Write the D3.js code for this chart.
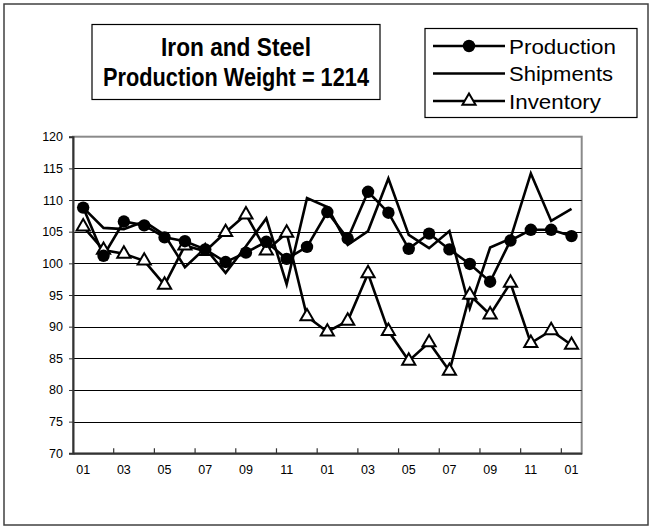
<!DOCTYPE html>
<html>
<head>
<meta charset="utf-8">
<script src="https://cdn.jsdelivr.net/npm/d3@7"></script>
<style>
  html, body { margin: 0; padding: 0; background: #fff; }
  svg { display: block; }
  text { font-family: "Liberation Sans", Arial, sans-serif; fill: #000; }
</style>
</head>
<body>
<script>
// ---- data ----
const months = ["01","02","03","04","05","06","07","08","09","10","11","12",
                "01","02","03","04","05","06","07","08","09","10","11","12","01"];
const production = [108.8,101.2,106.6,106.0,104.1,103.5,102.2,100.2,101.7,103.4,100.7,102.6,
                    108.1,103.9,111.3,108.0,102.3,104.7,102.2,99.9,97.1,103.6,105.3,105.3,104.3];
const shipments  = [108.8,105.6,105.4,106.6,104.5,99.4,102.4,98.5,102.7,107.1,96.7,110.3,
                    108.9,102.9,105.1,113.4,104.5,102.4,105.1,92.9,102.5,103.9,114.2,106.7,108.6];
const inventory  = [105.8,102.1,101.5,100.4,96.6,102.8,101.9,104.9,107.7,102.0,104.8,91.6,
                    89.2,90.9,98.4,89.3,84.6,87.5,83.0,95.0,91.9,96.9,87.4,89.4,87.1];
const yTicks = [70,75,80,85,90,95,100,105,110,115,120];
const titleLines = ["Iron and Steel", "Production Weight = 1214"];
const seriesNames = ["Production", "Shipments", "Inventory"];

// ---- layout ----
const W = 649, H = 527;
const plot = { left: 73, right: 581.7, top: 136.7, bottom: 453.3 };

const svg = d3.select("body").append("svg").attr("width", W).attr("height", H);

// outer frame
svg.append("rect").attr("x", 4).attr("y", 4).attr("width", 644).attr("height", 521)
  .attr("fill", "#fff").attr("stroke", "#404040").attr("stroke-width", 1.5);

const idx = d3.range(months.length);
const x = d3.scaleBand().domain(idx).range([plot.left, plot.right]).padding(0);
const y = d3.scaleLinear().domain([70, 120]).range([plot.bottom, plot.top]);
const cx = i => x(i) + x.bandwidth() / 2;

// plot area border (grey)
svg.append("rect").attr("x", plot.left).attr("y", plot.top)
  .attr("width", plot.right - plot.left).attr("height", plot.bottom - plot.top)
  .attr("fill", "#fff").attr("stroke", "#8a8a8a").attr("stroke-width", 2);

// gridlines
svg.append("g").selectAll("line").data(yTicks.filter(v => v > 70 && v < 120)).join("line")
  .attr("x1", plot.left).attr("x2", plot.right)
  .attr("y1", d => Math.round(y(d)) + 0.5).attr("y2", d => Math.round(y(d)) + 0.5)
  .attr("stroke", "#000").attr("stroke-width", 1);

// y axis
const yAxis = d3.axisLeft(y).tickValues(yTicks).tickSize(4).tickPadding(6).tickFormat(d3.format("d"));
const gy = svg.append("g").attr("transform", `translate(${plot.left},0)`).call(yAxis);
gy.select(".domain").attr("stroke", "#333").attr("stroke-width", 2);
gy.selectAll(".tick line").attr("stroke", "#333");
gy.selectAll(".tick text").style("font-size", "12.5px").style("font-family", "Liberation Sans, Arial, sans-serif").attr("fill", "#000");

// x axis: ticks between every two categories, pointing inward
const xAxis = d3.axisBottom(x).tickValues(idx.filter(i => i % 2 === 0))
  .tickFormat(i => months[i]).tickSize(0).tickPadding(12);
const gx = svg.append("g").attr("transform", `translate(0,${plot.bottom})`).call(xAxis);
gx.select(".domain").attr("stroke", "#333").attr("stroke-width", 2);
gx.selectAll(".tick text").style("font-size", "12.5px").style("font-family", "Liberation Sans, Arial, sans-serif").attr("fill", "#000");
// tick marks at boundaries of every two categories
svg.append("g").selectAll("line").data(idx.filter(i => i > 0 && i % 2 === 0)).join("line")
  .attr("x1", i => x(i)).attr("x2", i => x(i))
  .attr("y1", plot.bottom).attr("y2", plot.bottom - 5)
  .attr("stroke", "#333").attr("stroke-width", 1.2);

// series lines
const line = d3.line().x((d, i) => cx(i)).y(d => y(d));
const lw = 2.6;
svg.append("path").datum(shipments).attr("d", line)
  .attr("fill", "none").attr("stroke", "#000").attr("stroke-width", lw).attr("stroke-linejoin", "miter");
svg.append("path").datum(inventory).attr("d", line)
  .attr("fill", "none").attr("stroke", "#000").attr("stroke-width", lw);
svg.append("path").datum(production).attr("d", line)
  .attr("fill", "none").attr("stroke", "#000").attr("stroke-width", lw);

const tri = d3.symbol().type(d3.symbolTriangle).size(75);
svg.append("g").selectAll("path").data(inventory).join("path")
  .attr("d", tri).attr("transform", (d, i) => `translate(${cx(i)},${y(d)})`)
  .attr("fill", "#fff").attr("stroke", "#000").attr("stroke-width", 2);
svg.append("g").selectAll("circle").data(production).join("circle")
  .attr("cx", (d, i) => cx(i)).attr("cy", d => y(d)).attr("r", 6.2).attr("fill", "#000");

// title box
svg.append("rect").attr("x", 92).attr("y", 24.5).attr("width", 288).attr("height", 75)
  .attr("fill", "#fff").attr("stroke", "#000").attr("stroke-width", 1.2);
const tt = svg.append("g");
tt.append("text").attr("x", 236).attr("y", 56).attr("text-anchor", "middle")
  .style("font-size", "26px").style("font-weight", "bold")
  .attr("textLength", 150).attr("lengthAdjust", "spacingAndGlyphs").text(titleLines[0]);
tt.append("text").attr("x", 236).attr("y", 86).attr("text-anchor", "middle")
  .style("font-size", "26px").style("font-weight", "bold")
  .attr("textLength", 266).attr("lengthAdjust", "spacingAndGlyphs").text(titleLines[1]);

// legend
svg.append("rect").attr("x", 425).attr("y", 28.5).attr("width", 212).attr("height", 89)
  .attr("fill", "#fff").attr("stroke", "#000").attr("stroke-width", 1.2);
const legY = [46, 73.5, 101];
const lg = svg.append("g");
seriesNames.forEach((name, k) => {
  lg.append("line").attr("x1", 433).attr("x2", 505).attr("y1", legY[k]).attr("y2", legY[k])
    .attr("stroke", "#000").attr("stroke-width", lw);
  if (k === 0) lg.append("circle").attr("cx", 469).attr("cy", legY[k]).attr("r", 6.2).attr("fill", "#000");
  if (k === 2) lg.append("path").attr("d", tri).attr("transform", `translate(469,${legY[k]})`)
    .attr("fill", "#fff").attr("stroke", "#000").attr("stroke-width", 2);
  const widths = [107, 104, 92];
  lg.append("text").attr("x", 509).attr("y", legY[k] + 7.5)
    .style("font-size", "21px")
    .attr("textLength", widths[k]).attr("lengthAdjust", "spacingAndGlyphs").text(name);
});
</script>
</body>
</html>
